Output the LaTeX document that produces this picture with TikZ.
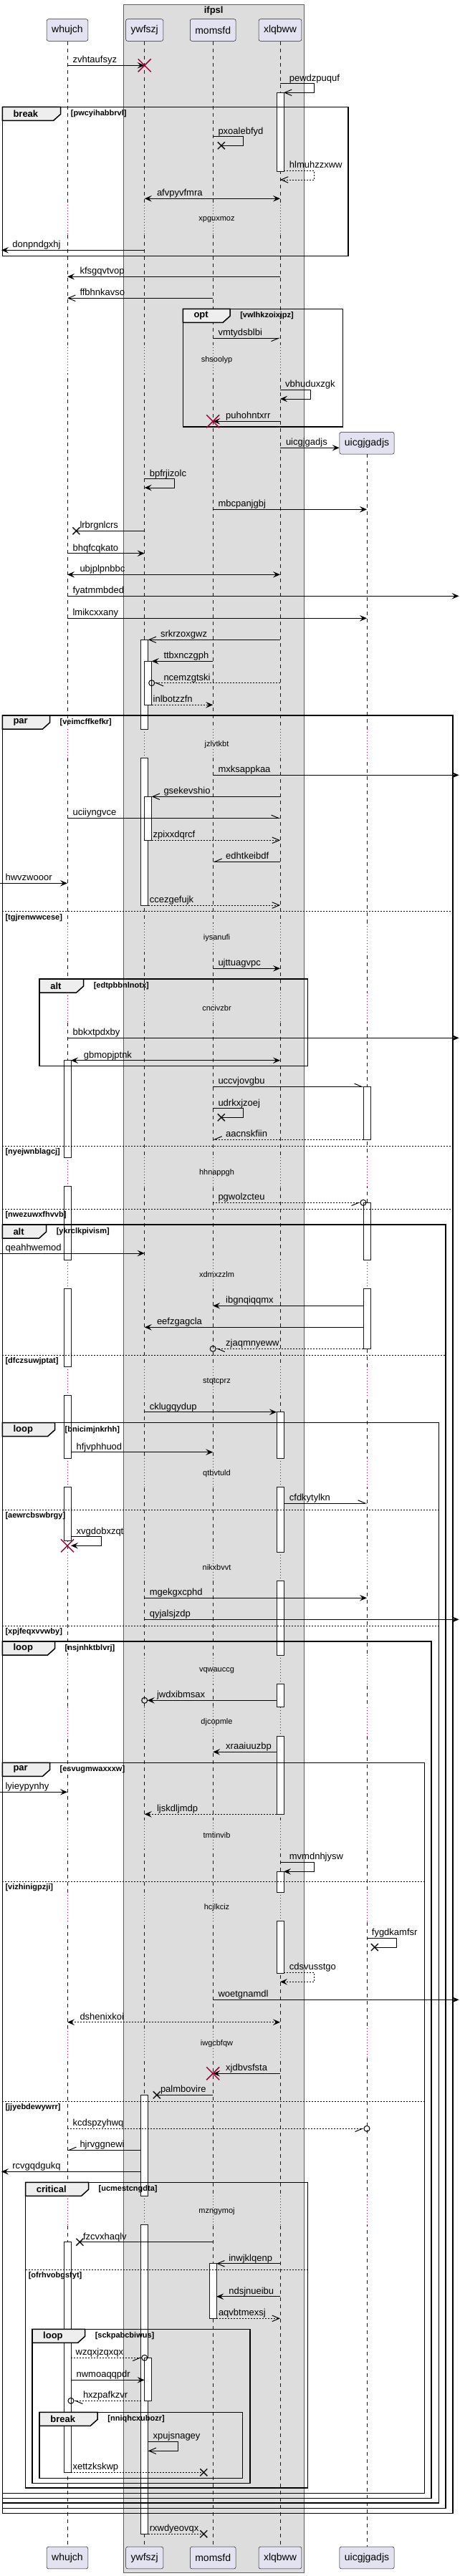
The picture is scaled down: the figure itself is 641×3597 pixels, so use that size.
\documentclass[tikz,border=0pt]{standalone}
\usepackage{fontspec}
\setmainfont{Liberation Sans}
\usepackage{tikz}
\usetikzlibrary{arrows.meta,calc,positioning}
\definecolor{boxgrey}{HTML}{DDDDDD}
\definecolor{partfill}{HTML}{E2E2F0}
\definecolor{partline}{HTML}{181818}
\definecolor{killred}{HTML}{A80036}
\definecolor{tabfill}{HTML}{EEEEEE}
\tikzset{%
	part/.style     = {draw=partline, fill=partfill, line width=0.5pt, rounded corners=2.5pt, minimum height=30.6pt, inner xsep=7pt, font=\fontsize{14}{16}\selectfont},
	boxline/.style  = {fill=boxgrey, draw=partline!70, line width=0.5pt},
	boxtitle/.style = {inner sep=0pt, font=\fontsize{13}{15}\selectfont\bfseries},
	lifeline/.style = {draw=partline, line width=0.5pt, dash pattern=on 5pt off 5pt},
	delayline/.style= {draw=killred, line width=0.8pt, dash pattern=on 1pt off 3pt},
	actbox/.style   = {draw=partline, fill=white, line width=1pt},
	msglbl/.style   = {anchor=base west, inner sep=0pt, font=\fontsize{13}{15}\selectfont},
	dlytext/.style  = {inner sep=0pt, font=\fontsize{11}{13}\selectfont},
	grpline/.style  = {draw=black, line width=1.5pt},
	grptab/.style   = {draw=black, fill=tabfill, line width=1.5pt},
	grpname/.style  = {anchor=west, inner sep=0pt, font=\fontsize{13}{15}\selectfont\bfseries},
	grpcond/.style  = {anchor=west, inner sep=0pt, font=\fontsize{11}{13}\selectfont\bfseries},
	sepline/.style  = {draw=black, line width=1pt, dash pattern=on 2pt off 2pt},
	arr/.style      = {line width=1pt, -{Stealth[length=10pt,width=8.5pt,inset=4pt]}},
	dual/.style     = {line width=1pt, {Stealth[length=10pt,width=8.5pt,inset=4pt]}-{Stealth[length=10pt,width=8.5pt,inset=4pt]}},
	thinarr/.style  = {line width=1pt, -{Straight Barb[length=10pt,width=8.5pt]}},
	harpl/.style    = {line width=1pt, -{Straight Barb[left,length=10pt,width=8.5pt]}},
	harpr/.style    = {line width=1pt, -{Straight Barb[right,length=10pt,width=8.5pt]}},
	plainline/.style= {line width=1pt},
	ret/.style      = {dash pattern=on 2pt off 2pt},
	circ/.style     = {shorten >=4pt},
	killmark/.style = {draw=killred, line width=1.5pt},
	lostmark/.style = {draw=partline, line width=1.5pt},
}
\newcounter{lb}
% message: [style]{from}{to}{y}{label x}{label}
\newcommand{\sqmsg}[6][arr]{%
	\draw[#1] (#2 |- 0,#4) -- (#3 |- 0,#4);
	\stepcounter{lb}\node[msglbl] (lb\thelb) at (#5,#4-3.5) {#6};}
% self message: [style]{from}{y1}{right x}{y2}{to}{label x}{label}
\newcommand{\sqself}[8][arr]{%
	\draw[#1] (#2 |- 0,#3) -- (#4,#3) -- (#4,#5) -- (#6 |- 0,#5);
	\stepcounter{lb}\node[msglbl] (lb\thelb) at (#7,#3-3.5) {#8};}
\newcommand{\killx}[2]{\draw[killmark] (#1 |- 0,#2) +(-9,-9) -- +(9,9) +(-9,9) -- +(9,-9);}
\newcommand{\lostx}[3]{\coordinate (#1) at (#2,#3); \draw[lostmark] (#1) +(-5,-5) -- +(5,5) +(-5,5) -- +(5,-5);}
\newcommand{\circat}[2]{\draw[line width=1pt] (#1 |- 0,#2) circle[radius=4pt];}
\newcommand{\actbar}[4][0]{\draw[actbox] ($(#2 |- 0,#3)+(#1-5,0)$) rectangle ($(#2 |- 0,#4)+(#1+5,0)$);}
\newcommand{\sqdelay}[2]{\stepcounter{lb}\node[dlytext] (lb\thelb) at (302.5,#1) {#2};}
% dotted part of a lifeline during a delay: {lifeline}{background}{y}
\newcommand{\dlyline}[3]{%
	\pgfmathsetmacro\da{#3-21}\pgfmathsetmacro\db{#3+19.5}%
	\draw[#2,line width=2pt] (#1 |- 0,\da) -- (#1 |- 0,\db);
	\draw[delayline] (#1 |- 0,\da) -- (#1 |- 0,\db);}
\newcommand{\sqgrp}[7]{%
	\draw[grpline] (#1,#2) rectangle (#3,#4);
	\draw[grptab] (#1,#2) -- (#1+#5,#2) -- (#1+#5,#2+10) -- (#1+#5-10,#2+19) -- (#1,#2+19) -- cycle;
	\stepcounter{lb}\node[grpname] (lb\thelb) at (#1+15,#2+9.5) {#6};
	\stepcounter{lb}\node[grpcond] (lb\thelb) at (#1+#5+14,#2+9.5) {#7};}
\newcommand{\sqsep}[4]{%
	\draw[sepline] (#1,#3) -- (#2,#3);
	\stepcounter{lb}\node[grpcond] (lb\thelb) at (#1+4,#3+8.5) {#4};}

\begin{document}
\begin{tikzpicture}[x=1pt,y=-1pt]
	\useasboundingbox (0,0) rectangle (641,3597);
	\draw[boxline] (172.6,6) rectangle (423.8,3592.7);
	\node[boxtitle] (ifpsl) at (298.2,14.7) {ifpsl};
	
	\node[part] (whujch) at (94,42) {whujch};
	\node[part] (ywfszj) at (201.7,42) {ywfszj};
	\node[part] (momsfd) at (297.2,42) {momsfd};
	\node[part] (xlqbww) at (391,42) {xlqbww};
	\node[part] (uicgjgadjs) at (512,618.8) {uicgjgadjs};
	\node[part] (whujch-end) at (94,3571.5) {whujch};
	\node[part] (ywfszj-end) at (201.7,3571.5) {ywfszj};
	\node[part] (momsfd-end) at (297.2,3571.5) {momsfd};
	\node[part] (xlqbww-end) at (391,3571.5) {xlqbww};
	\node[part] (uicgjgadjs-end) at (512,3571.5) {uicgjgadjs};
	
	\coordinate (lstart) at (0,0);
	\coordinate (lend) at (2,0);
	\coordinate (rend) at (640.6,0);
	\foreach \p in {whujch,ywfszj,momsfd,xlqbww,uicgjgadjs}{
		\coordinate (\p-l) at ($(\p)+(-5,0)$);
		\coordinate (\p-r) at ($(\p)+(5,0)$);
		\coordinate (\p-rr) at ($(\p)+(10,0)$);
		\draw[lifeline] (\p.south) -- (\p-end.north);
	}
	% delays
	\foreach \d in {306.7,502.3,1039.3,1310,1407.3,1637.3,1780,1929.3,2057.3,2188.3,2332.3,2404.7,2562.3,2663.3,2853.3,3087.3}{
		\foreach \p/\bg in {whujch/white,ywfszj/boxgrey,momsfd/boxgrey,xlqbww/boxgrey}
			\dlyline{\p}{\bg}{\d};
	}
	\foreach \d in {1039.3,1310,1407.3,1637.3,1780,1929.3,2057.3,2188.3,2332.3,2404.7,2562.3,2663.3,2853.3,3087.3}
		\dlyline{uicgjgadjs}{white}{\d};
	
	% activations
	\actbar{xlqbww}{129.3}{239.3}
	\actbar{ywfszj}{893.3}{1018.3}
	\actbar{ywfszj}{1058.8}{1264}
	\actbar[5]{ywfszj}{923.3}{984.3}
	\actbar[5]{ywfszj}{1112.3}{1173.3}
	\actbar{whujch}{1480.7}{1616.3}
	\actbar{whujch}{1656.8}{1759}
	\actbar{whujch}{1799.5}{1908.3}
	\actbar{whujch}{1948.8}{2036.3}
	\actbar{whujch}{2076.8}{2151.7}
	\actbar{uicgjgadjs}{1517.3}{1591}
	\actbar{uicgjgadjs}{1679.3}{1759}
	\actbar{uicgjgadjs}{1799.5}{1883.3}
	\actbar{xlqbww}{1971.7}{2036.3}
	\actbar{xlqbww}{2076.8}{2167.3}
	\actbar{xlqbww}{2207.8}{2311.3}
	\actbar{xlqbww}{2351.8}{2383.7}
	\actbar{xlqbww}{2424.2}{2533.3}
	\actbar{xlqbww}{2613.3}{2642.3}
	\actbar{xlqbww}{2682.8}{2755}
	\actbar{ywfszj}{2925.3}{3066.3}
	\actbar{ywfszj}{3106.8}{3538.3}
	\actbar{whujch}{3130.7}{3452.3}
	\actbar{momsfd}{3160.7}{3237.3}
	\actbar[5]{ywfszj}{3292.3}{3352.7}
	
	% groups
	\sqgrp{3.3}{149.3}{486}{357.3}{81.4}{break}{[pwcyihabbrvl]}
	\sqgrp{255.3}{431.3}{478.6}{596}{65.8}{opt}{[vwlhkzoixjpz]}
	\sqgrp{3.3}{999}{632}{3509.3}{66.2}{par}{[veimcffkefkr]}
	\sqsep{3.3}{632}{1272.7}{[tgjrenwwcese]}
	\sqsep{3.3}{632}{1600}{[nyejwnblagcj]}
	\sqsep{3.3}{632}{1688.3}{[nwezuwxfhvvb]}
	\sqgrp{55.2}{1367}{429.5}{1488.3}{61.4}{alt}{[edtpbbnlnotx]}
	\sqgrp{3.3}{1710}{621.8}{3502.3}{61.3}{alt}{[ykrclkpivism]}
	\sqsep{3.3}{621.8}{1892.3}{[dfczsuwjptat]}
	\sqgrp{3.3}{1986.7}{612.4}{3495}{73.2}{loop}{[bnicimjnkrhh]}
	\sqsep{3.3}{612.4}{2108.3}{[aewrcbswbrgy]}
	\sqsep{3.3}{612.4}{2270.3}{[xpjfeqxvvwby]}
	\sqgrp{3.3}{2292}{602.1}{3488.3}{73.2}{loop}{[nsjnhktblvrj]}
	\sqgrp{3.3}{2461.3}{592.3}{3481.7}{66.2}{par}{[esvugmwaxxxw]}
	\sqsep{3.3}{592.3}{2627.3}{[vizhinigpzji]}
	\sqsep{3.3}{592.3}{2934.3}{[jjyebdewywrr]}
	\sqgrp{35.6}{3047.3}{429.5}{3474}{87.9}{critical}{[ucmestcngdta]}
	\sqsep{35.6}{429.5}{3169.3}{[ofrhvobgsfyt]}
	\sqgrp{45}{3252.3}{349}{3467.3}{73.6}{loop}{[sckpabcbiwus]}
	\sqgrp{55.2}{3368.3}{338.7}{3460.7}{81}{break}{[nniqhcxubozr]}
	
	% messages
	\sqmsg{whujch}{ywfszj}{91.3}{101.4}{zvhtaufsyz}
	\killx{ywfszj}{91.3}
	\sqself[thinarr]{xlqbww}{116.7}{438.5}{129.3}{xlqbww-r}{403.7}{pewdzpuquf}
	\lostx{lost1}{308.8}{203.3}
	\sqself[plainline]{momsfd}{190.7}{339.5}{203.3}{lost1}{304.3}{pxoalebfyd}
	\sqself[thinarr,ret]{xlqbww-r}{238.3}{438.5}{251}{xlqbww}{403.7}{hlmuhzzxww}
	\sqmsg[dual]{ywfszj}{xlqbww}{277.3}{218.8}{afvpyvfmra}
	\sqdelay{306.7}{xpguxmoz}
	\sqmsg{ywfszj}{lend}{349.3}{17.2}{donpndgxhj}
	\sqmsg{xlqbww}{whujch}{386.3}{111.3}{kfsgqvtvop}
	\sqmsg[thinarr]{momsfd}{whujch}{416.3}{111.3}{ffbhnkavso}
	\sqmsg[harpr]{momsfd}{xlqbww}{472.3}{304.3}{vmtydsblbi}
	\sqdelay{502.3}{shsoolyp}
	\sqself{xlqbww}{544.3}{433.6}{557}{xlqbww}{398}{vbhuduxzgk}
	\sqmsg{xlqbww}{momsfd}{588.3}{315}{puhohntxrr}
	\killx{momsfd}{588.3}
	\sqmsg{xlqbww}{uicgjgadjs.west}{625.3}{398.8}{uicgjgadjs}
	\sqself{ywfszj}{668.7}{243.8}{681}{ywfszj}{208.6}{bpfrjizolc}
	\sqmsg{momsfd}{uicgjgadjs}{711.3}{304.3}{mbcpanjgbj}
	\lostx{lost2}{106.4}{741.3}
	\sqmsg[plainline]{ywfszj}{lost2}{741.3}{111.3}{lrbrgnlcrs}
	\sqmsg{whujch}{ywfszj}{772.7}{101.4}{bhqfcqkato}
	\sqmsg[dual]{whujch}{xlqbww}{802.3}{111.3}{ubjplpnbbc}
	\sqmsg{whujch}{rend}{832.3}{101.4}{fyatmmbded}
	\sqmsg{whujch}{uicgjgadjs}{863.3}{101.4}{lmikcxxany}
	\sqmsg[thinarr]{xlqbww}{ywfszj-r}{893.3}{223.8}{srkrzoxgwz}
	\sqmsg{momsfd}{ywfszj-rr}{923.3}{228.3}{ttbxnczgph}
	\sqmsg[harpl,ret,circ]{xlqbww}{ywfszj-rr}{953.7}{228.3}{ncemzgtski}
	\circat{ywfszj-rr}{953.7}
	\sqmsg[arr,ret]{ywfszj-rr}{momsfd}{984.3}{213.5}{inlbotzzfn}
	\sqdelay{1039.3}{jzlvtkbt}
	\sqmsg{momsfd}{rend}{1082.3}{304.3}{mxksappkaa}
	\sqmsg[thinarr]{xlqbww}{ywfszj-rr}{1112.3}{228.3}{gsekevshio}
	\sqmsg[harpl]{whujch}{xlqbww}{1142.3}{101.4}{uciiyngvce}
	\sqmsg[thinarr,ret]{ywfszj-rr}{xlqbww}{1173.3}{213.5}{zpixxdqrcf}
	\sqmsg[harpr]{xlqbww}{momsfd}{1203.3}{315}{edhtkeibdf}
	\sqmsg{lstart}{whujch}{1233.3}{7.4}{hwvzwooor}
	\sqmsg[thinarr,ret]{ywfszj-r}{xlqbww}{1264}{208.6}{ccezgefujk}
	\sqdelay{1310}{iysanufi}
	\sqmsg{momsfd}{xlqbww}{1352.3}{304.3}{ujttuagvpc}
	\sqdelay{1407.3}{cncivzbr}
	\sqmsg{whujch}{rend}{1449.3}{101.4}{bbkxtpdxby}
	\sqmsg[dual]{whujch-r}{xlqbww}{1480.7}{116.6}{gbmopjptnk}
	\sqmsg[harpl]{momsfd}{uicgjgadjs-l}{1517.3}{304.3}{uccvjovgbu}
	\lostx{lost3}{308.8}{1560.3}
	\sqself[plainline]{momsfd}{1547.7}{339.5}{1560.3}{lost3}{304.3}{udrkxjzoej}
	\sqmsg[harpr,ret]{uicgjgadjs-l}{momsfd}{1591}{315}{aacnskfiin}
	\sqdelay{1637.3}{hhnappgh}
	\sqmsg[harpr,ret,circ]{momsfd}{uicgjgadjs-l}{1679.3}{304.3}{pgwolzcteu}
	\circat{uicgjgadjs-l}{1679.3}
	\sqmsg{lstart}{ywfszj}{1750}{7.4}{qeahhwemod}
	\sqdelay{1780}{xdmxzzlm}
	\sqmsg{uicgjgadjs-l}{momsfd}{1823.3}{315}{ibgnqiqqmx}
	\sqmsg{uicgjgadjs-l}{ywfszj}{1853.3}{218.8}{eefzgagcla}
	\sqmsg[harpl,ret,circ]{uicgjgadjs-l}{momsfd}{1883.3}{315}{zjaqmnyeww}
	\circat{momsfd}{1883.3}
	\sqdelay{1929.3}{stqtcprz}
	\sqmsg{ywfszj}{xlqbww-l}{1971.7}{208.6}{cklugqydup}
	\sqmsg{whujch-r}{momsfd}{2027.7}{106.4}{hfjvphhuod}
	\sqdelay{2057.3}{qtbvtuld}
	\sqmsg[harpl]{xlqbww-r}{uicgjgadjs}{2099}{403.7}{cfdkytylkn}
	\sqself{whujch-r}{2145.7}{141.1}{2158.3}{whujch-r}{106.4}{xvgdobxzqt}
	\killx{whujch}{2158.3}
	\sqdelay{2188.3}{nikxbvvt}
	\sqmsg{ywfszj}{uicgjgadjs}{2231.3}{208.6}{mgekgxcphd}
	\sqmsg{ywfszj}{rend}{2261.3}{208.6}{qyjalsjzdp}
	\sqdelay{2332.3}{vqwauccg}
	\sqmsg[arr,circ]{xlqbww-l}{ywfszj}{2374.3}{218.8}{jwdxibmsax}
	\circat{ywfszj}{2374.3}
	\sqdelay{2404.7}{djcopmle}
	\sqmsg{xlqbww-l}{momsfd}{2446.3}{315}{xraaiuuzbp}
	\sqmsg{lstart}{whujch}{2502.3}{7.4}{lyieypynhy}
	\sqmsg[arr,ret]{xlqbww-l}{ywfszj}{2533.3}{218.8}{ljskdljmdp}
	\sqdelay{2562.3}{tmtinvib}
	\sqself{xlqbww}{2600.3}{438.5}{2613.3}{xlqbww-r}{403.7}{mvmdnhjysw}
	\sqdelay{2663.3}{hcjlkciz}
	\lostx{lost4}{522.8}{2719}
	\sqself[plainline]{uicgjgadjs}{2706}{553.5}{2719}{lost4}{518.7}{fygdkamfsr}
	\sqself[arr,ret]{xlqbww-r}{2754.3}{438.5}{2767.3}{xlqbww}{403.7}{cdsvusstgo}
	\sqmsg{momsfd}{rend}{2792.3}{304.3}{woetgnamdl}
	\sqmsg[dual,ret]{whujch}{xlqbww}{2823.7}{111.3}{dshenixkoi}
	\sqdelay{2853.3}{iwgcbfqw}
	\sqmsg{xlqbww}{momsfd}{2895.3}{315}{xjdbvsfsta}
	\killx{momsfd}{2895.3}
	\lostx{lost5}{218.8}{2925.3}
	\sqmsg[plainline]{momsfd}{lost5}{2925.3}{223.8}{palmbovire}
	\sqmsg[harpr,ret,circ]{whujch}{uicgjgadjs}{2972.3}{101.4}{kcdspzyhwq}
	\circat{uicgjgadjs}{2972.3}
	\sqmsg[harpr]{ywfszj-l}{whujch}{3002.3}{111.3}{hjrvggnewi}
	\sqmsg{ywfszj-l}{lend}{3032.3}{17.2}{rcvgqdgukq}
	\sqdelay{3087.3}{mzngymoj}
	\lostx{lost6}{111.3}{3130.7}
	\sqmsg[plainline]{momsfd}{lost6}{3130.7}{115.8}{fzcvxhaqlv}
	\sqmsg[thinarr]{xlqbww}{momsfd-r}{3160.7}{319.1}{inwjklqenp}
	\sqmsg{xlqbww}{momsfd-r}{3206.7}{319.1}{ndsjnueibu}
	\sqmsg[thinarr,ret]{momsfd-r}{xlqbww}{3237.3}{304.8}{aqvbtmexsj}
	\sqmsg[harpr,ret,circ]{whujch-r}{ywfszj}{3292.3}{105.5}{wzqxjzqxqx}
	\circat{ywfszj}{3292.3}
	\sqmsg{whujch-r}{ywfszj}{3323.3}{106.4}{nwmoaqqpdr}
	\sqmsg[harpl,ret,circ]{ywfszj-l}{whujch-r}{3352.3}{115.8}{hxzpafkzvr}
	\circat{whujch-r}{3352.3}
	\sqself[thinarr]{ywfszj-r}{3409.3}{248.3}{3422.3}{ywfszj-r}{213.5}{xpujsnagey}
	\lostx{lost7}{284.3}{3452.3}
	\sqmsg[plainline,ret]{whujch-r}{lost7}{3452.3}{101.4}{xettzkskwp}
	\lostx{lost8}{284.3}{3538.3}
	\sqmsg[plainline,ret]{ywfszj-r}{lost8}{3538.3}{208.6}{rxwdyeovqx}
\end{tikzpicture}
\end{document}
